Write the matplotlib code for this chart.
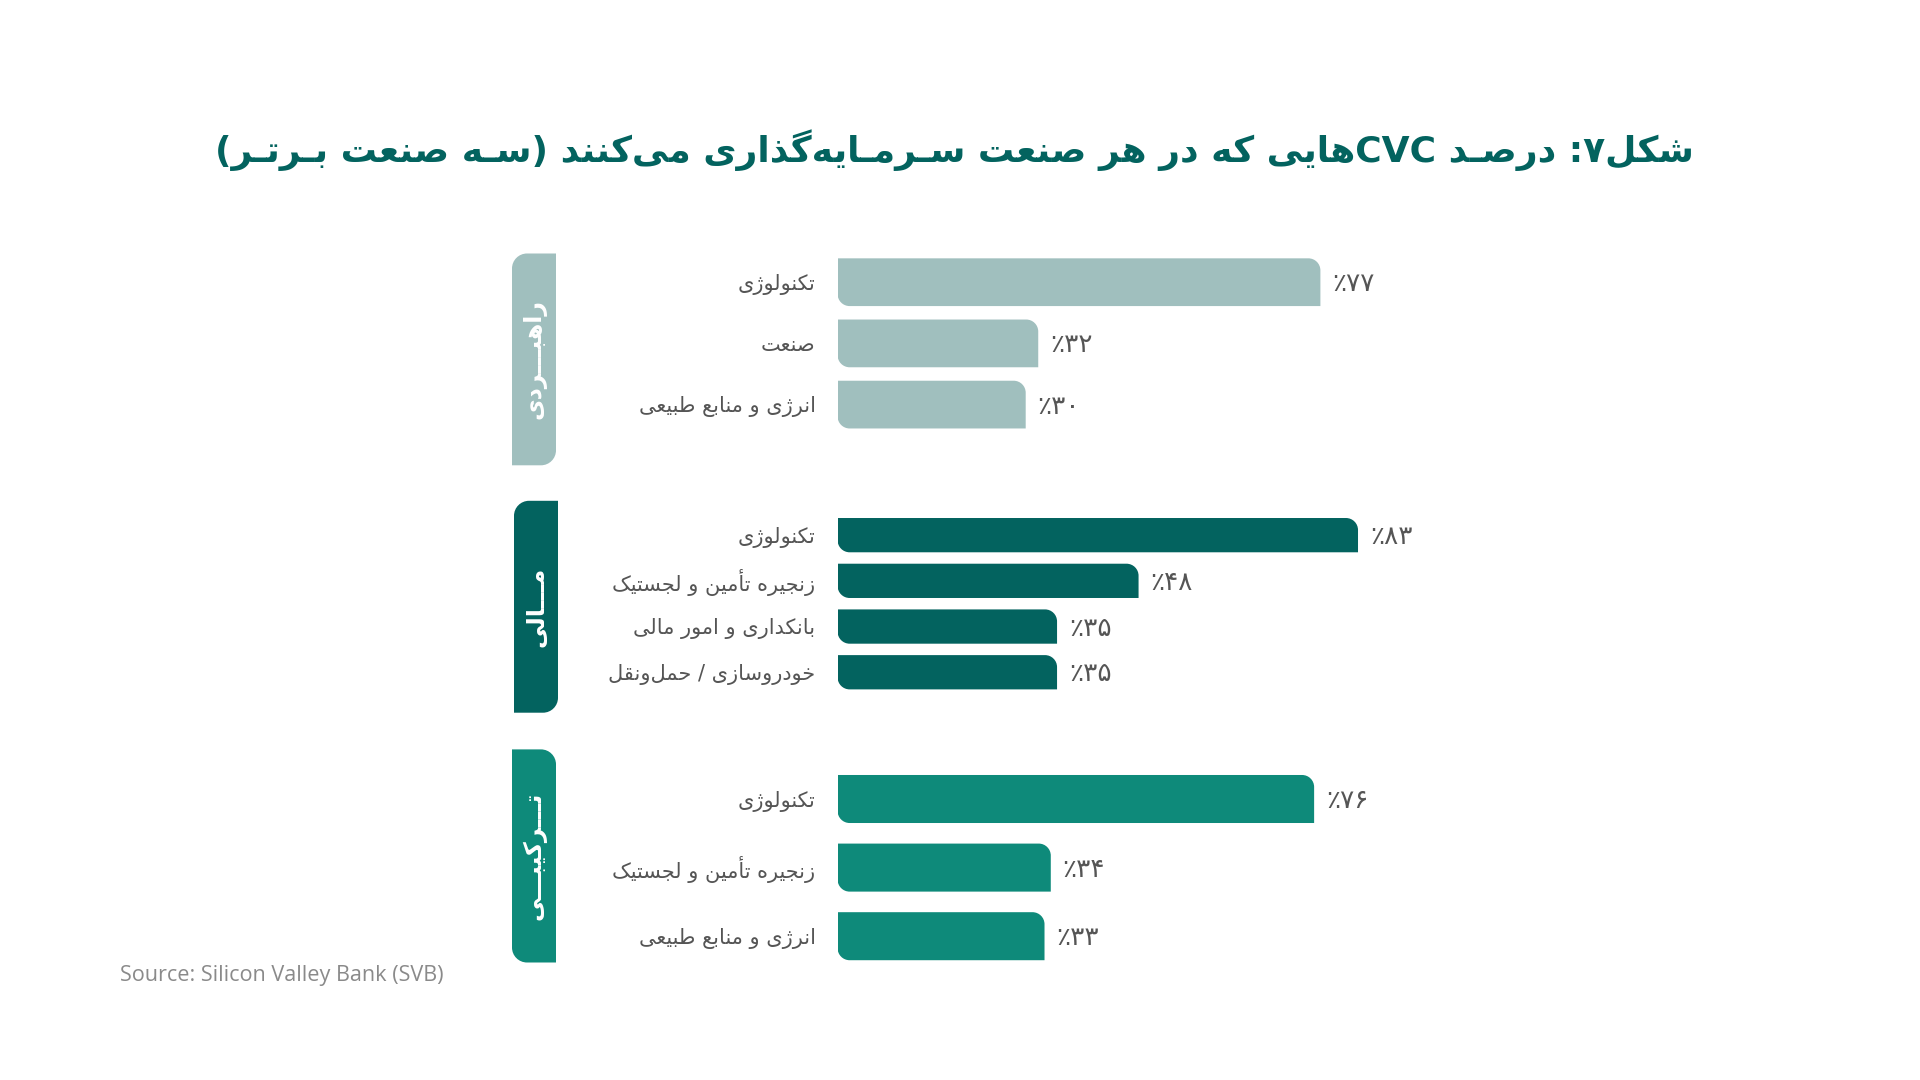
import re
import matplotlib
matplotlib.use('Agg')
import matplotlib.pyplot as plt
from matplotlib.path import Path
from matplotlib.patches import PathPatch

plt.rcParams['font.family'] = ['DejaVu Sans']

# data
title = 'شکل۷: درصـد CVCهایی که در هر صنعت سـرمـایه‌گذاری می‌کنند (سـه صنعت بـرتـر)'
group_names = ['راهبـــردی', 'مـــالی', 'تـــرکیبـــی']
strategic_labels = ['تکنولوژی', 'صنعت', 'انرژی و منابع طبیعی']
strategic_values = [77, 32, 30]
financial_labels = ['تکنولوژی', 'زنجیره تأمین و لجستیک', 'بانکداری و امور مالی', 'خودروسازی / حمل‌ونقل']
financial_values = [83, 48, 35, 35]
hybrid_labels = ['تکنولوژی', 'زنجیره تأمین و لجستیک', 'انرژی و منابع طبیعی']
hybrid_values = [76, 34, 33]
source = 'Source: Silicon Valley Bank (SVB)'

colors = ['#A0BFBE', '#03635F', '#0E8A7A']
title_color = '#03635F'
text_color = '#555555'

# --- minimal Persian shaping (matplotlib has no complex text layout) ---
FORMS = {
    'ا': (0xFE8D, 0xFE8E), 'أ': (0xFE83, 0xFE84), 'آ': (0xFE81, 0xFE82),
    'ب': (0xFE8F, 0xFE90, 0xFE91, 0xFE92), 'پ': (0xFB56, 0xFB57, 0xFB58, 0xFB59),
    'ت': (0xFE95, 0xFE96, 0xFE97, 0xFE98), 'ث': (0xFE99, 0xFE9A, 0xFE9B, 0xFE9C),
    'ج': (0xFE9D, 0xFE9E, 0xFE9F, 0xFEA0), 'چ': (0xFB7A, 0xFB7B, 0xFB7C, 0xFB7D),
    'ح': (0xFEA1, 0xFEA2, 0xFEA3, 0xFEA4), 'خ': (0xFEA5, 0xFEA6, 0xFEA7, 0xFEA8),
    'د': (0xFEA9, 0xFEAA), 'ذ': (0xFEAB, 0xFEAC), 'ر': (0xFEAD, 0xFEAE),
    'ز': (0xFEAF, 0xFEB0), 'ژ': (0xFB8A, 0xFB8B),
    'س': (0xFEB1, 0xFEB2, 0xFEB3, 0xFEB4), 'ش': (0xFEB5, 0xFEB6, 0xFEB7, 0xFEB8),
    'ص': (0xFEB9, 0xFEBA, 0xFEBB, 0xFEBC), 'ض': (0xFEBD, 0xFEBE, 0xFEBF, 0xFEC0),
    'ط': (0xFEC1, 0xFEC2, 0xFEC3, 0xFEC4), 'ظ': (0xFEC5, 0xFEC6, 0xFEC7, 0xFEC8),
    'ع': (0xFEC9, 0xFECA, 0xFECB, 0xFECC), 'غ': (0xFECD, 0xFECE, 0xFECF, 0xFED0),
    'ف': (0xFED1, 0xFED2, 0xFED3, 0xFED4), 'ق': (0xFED5, 0xFED6, 0xFED7, 0xFED8),
    'ک': (0xFB8E, 0xFB8F, 0xFB90, 0xFB91), 'گ': (0xFB92, 0xFB93, 0xFB94, 0xFB95),
    'ل': (0xFEDD, 0xFEDE, 0xFEDF, 0xFEE0), 'م': (0xFEE1, 0xFEE2, 0xFEE3, 0xFEE4),
    'ن': (0xFEE5, 0xFEE6, 0xFEE7, 0xFEE8), 'ه': (0xFEE9, 0xFEEA, 0xFEEB, 0xFEEC),
    'و': (0xFEED, 0xFEEE), 'ی': (0xFBFC, 0xFBFD, 0xFBFE, 0xFBFF),
    'ـ': (0x640, 0x640, 0x640, 0x640),
}
MIRROR = str.maketrans('()', ')(')


def shape(text):
    out = []
    for i, c in enumerate(text):
        if c not in FORMS:
            out.append(c)
            continue
        prev = text[i - 1] if i > 0 else None
        nxt = text[i + 1] if i + 1 < len(text) else None
        f = FORMS[c]
        jp = prev in FORMS and len(FORMS[prev]) == 4
        jn = len(f) == 4 and nxt in FORMS
        if jp and jn:
            out.append(chr(f[3]))
        elif jp:
            out.append(chr(f[1]))
        elif jn:
            out.append(chr(f[2]))
        else:
            out.append(chr(f[0]))
    return ''.join(out).replace('\u200c', '')


def fa(text):  # logical Persian -> visual LTR string
    s = shape(text)
    runs = re.findall(r'[A-Za-z0-9\u06F0-\u06F9]+|[^A-Za-z0-9\u06F0-\u06F9]+', s)
    res = []
    for r in reversed(runs):
        if re.match(r'[A-Za-z0-9\u06F0-\u06F9]', r):
            res.append(r)
        else:
            res.append(r[::-1].translate(MIRROR))
    return ''.join(res)


def fa_num(v):
    return '٪' + str(v).translate(str.maketrans('0123456789', '۰۱۲۳۴۵۶۷۸۹'))


def rounded(xl, xr, yt, yb, rx, ry, corners):
    # corners: set of 'tl','tr','br','bl' (visual positions)
    sy = 1 if yb > yt else -1
    k = 0.5523
    v, c = [], []
    v.append((xl + rx, yt) if 'tl' in corners else (xl, yt)); c.append(Path.MOVETO)
    if 'tr' in corners:
        v += [(xr - rx, yt), (xr - rx + k * rx, yt), (xr, yt + sy * (ry - k * ry)), (xr, yt + sy * ry)]
        c += [Path.LINETO, Path.CURVE4, Path.CURVE4, Path.CURVE4]
    else:
        v.append((xr, yt)); c.append(Path.LINETO)
    if 'br' in corners:
        v += [(xr, yb - sy * ry), (xr, yb - sy * (ry - k * ry)), (xr - rx + k * rx, yb), (xr - rx, yb)]
        c += [Path.LINETO, Path.CURVE4, Path.CURVE4, Path.CURVE4]
    else:
        v.append((xr, yb)); c.append(Path.LINETO)
    if 'bl' in corners:
        v += [(xl + rx, yb), (xl + rx - k * rx, yb), (xl, yb - sy * (ry - k * ry)), (xl, yb - sy * ry)]
        c += [Path.LINETO, Path.CURVE4, Path.CURVE4, Path.CURVE4]
    else:
        v.append((xl, yb)); c.append(Path.LINETO)
    if 'tl' in corners:
        v += [(xl, yt + sy * ry), (xl, yt + sy * (ry - k * ry)), (xl + rx - k * rx, yt), (xl + rx, yt)]
        c += [Path.LINETO, Path.CURVE4, Path.CURVE4, Path.CURVE4]
    v.append((0, 0)); c.append(Path.CLOSEPOLY)
    return Path(v, c)


W, H = 1920, 1080
fig = plt.figure(figsize=(19.2, 10.8), dpi=100, facecolor='white')

bg = fig.add_axes([0, 0, 1, 1], zorder=0)
bg.set_xlim(0, W)
bg.set_ylim(H, 0)
bg.axis('off')

fig.text(0.497, 1 - 150 / H, fa(title), ha='center', va='center',
         fontsize=26, fontweight='bold', color=title_color)
fig.text(120 / W, 1 - 975 / H, source, ha='left', va='center',
         fontsize=15.6, color='#8a8a8a', family='Open Sans')

groups = [(strategic_labels, strategic_values), (financial_labels, financial_values),
          (hybrid_labels, hybrid_values)]
# layout in pixels: axes top, row spacing, bar height fraction
ax_top = [251.6, 512.3, 764.7]
row_px = [61.2, 45.7, 68.6]
bar_frac = [0.78, 0.75, 0.70]
boxes = [(512, 556, 253.5, 465.3, {'tl', 'br'}), (514, 558, 500.8, 712.7, {'tl', 'br'}),
         (512, 556, 749.4, 962.5, {'tr', 'bl'})]
x0_px, px_per_pct = 837.6, 6.27
r_px = 12

for g, (labels, values) in enumerate(groups):
    n = len(values)
    hpx = n * row_px[g]
    ax = fig.add_axes([x0_px / W, 1 - (ax_top[g] + hpx) / H, 100 * px_per_pct / W, hpx / H], zorder=2)
    ax.set_xlim(0, 100)
    ax.set_ylim(n - 0.5, -0.5)
    ax.axis('off')
    bars = ax.barh(range(n), values, height=bar_frac[g], color=colors[g])
    rx = r_px / px_per_pct
    ry = r_px / row_px[g]
    for rect in bars:
        xl, yt = rect.get_xy()
        p = rounded(xl, xl + rect.get_width(), yt, yt + rect.get_height(), rx, ry, {'tr', 'bl'})
        rect.set_visible(False)
        ax.add_patch(PathPatch(p, facecolor=colors[g], edgecolor='none'))
    for i, (lab, v) in enumerate(zip(labels, values)):
        ax.annotate(fa(lab), xy=(0, i), xytext=(-22, -2), textcoords='offset pixels',
                    ha='right', va='center', fontsize=15, color=text_color)
        ax.annotate(fa_num(v), xy=(v, i), xytext=(12, -2), textcoords='offset pixels',
                    ha='left', va='center', fontsize=19, color=text_color)

    bx0, bx1, by0, by1, corners = boxes[g]
    bg.add_patch(PathPatch(rounded(bx0, bx1, by0, by1, 15, 15, corners),
                           facecolor=colors[g], edgecolor='none'))
    bg.text((bx0 + bx1) / 2, (by0 + by1) / 2, fa(group_names[g]), rotation=90,
            ha='center', va='center', fontsize=17, fontweight='bold', color='white')

fig.savefig('out.png', dpi=100, facecolor='white')
